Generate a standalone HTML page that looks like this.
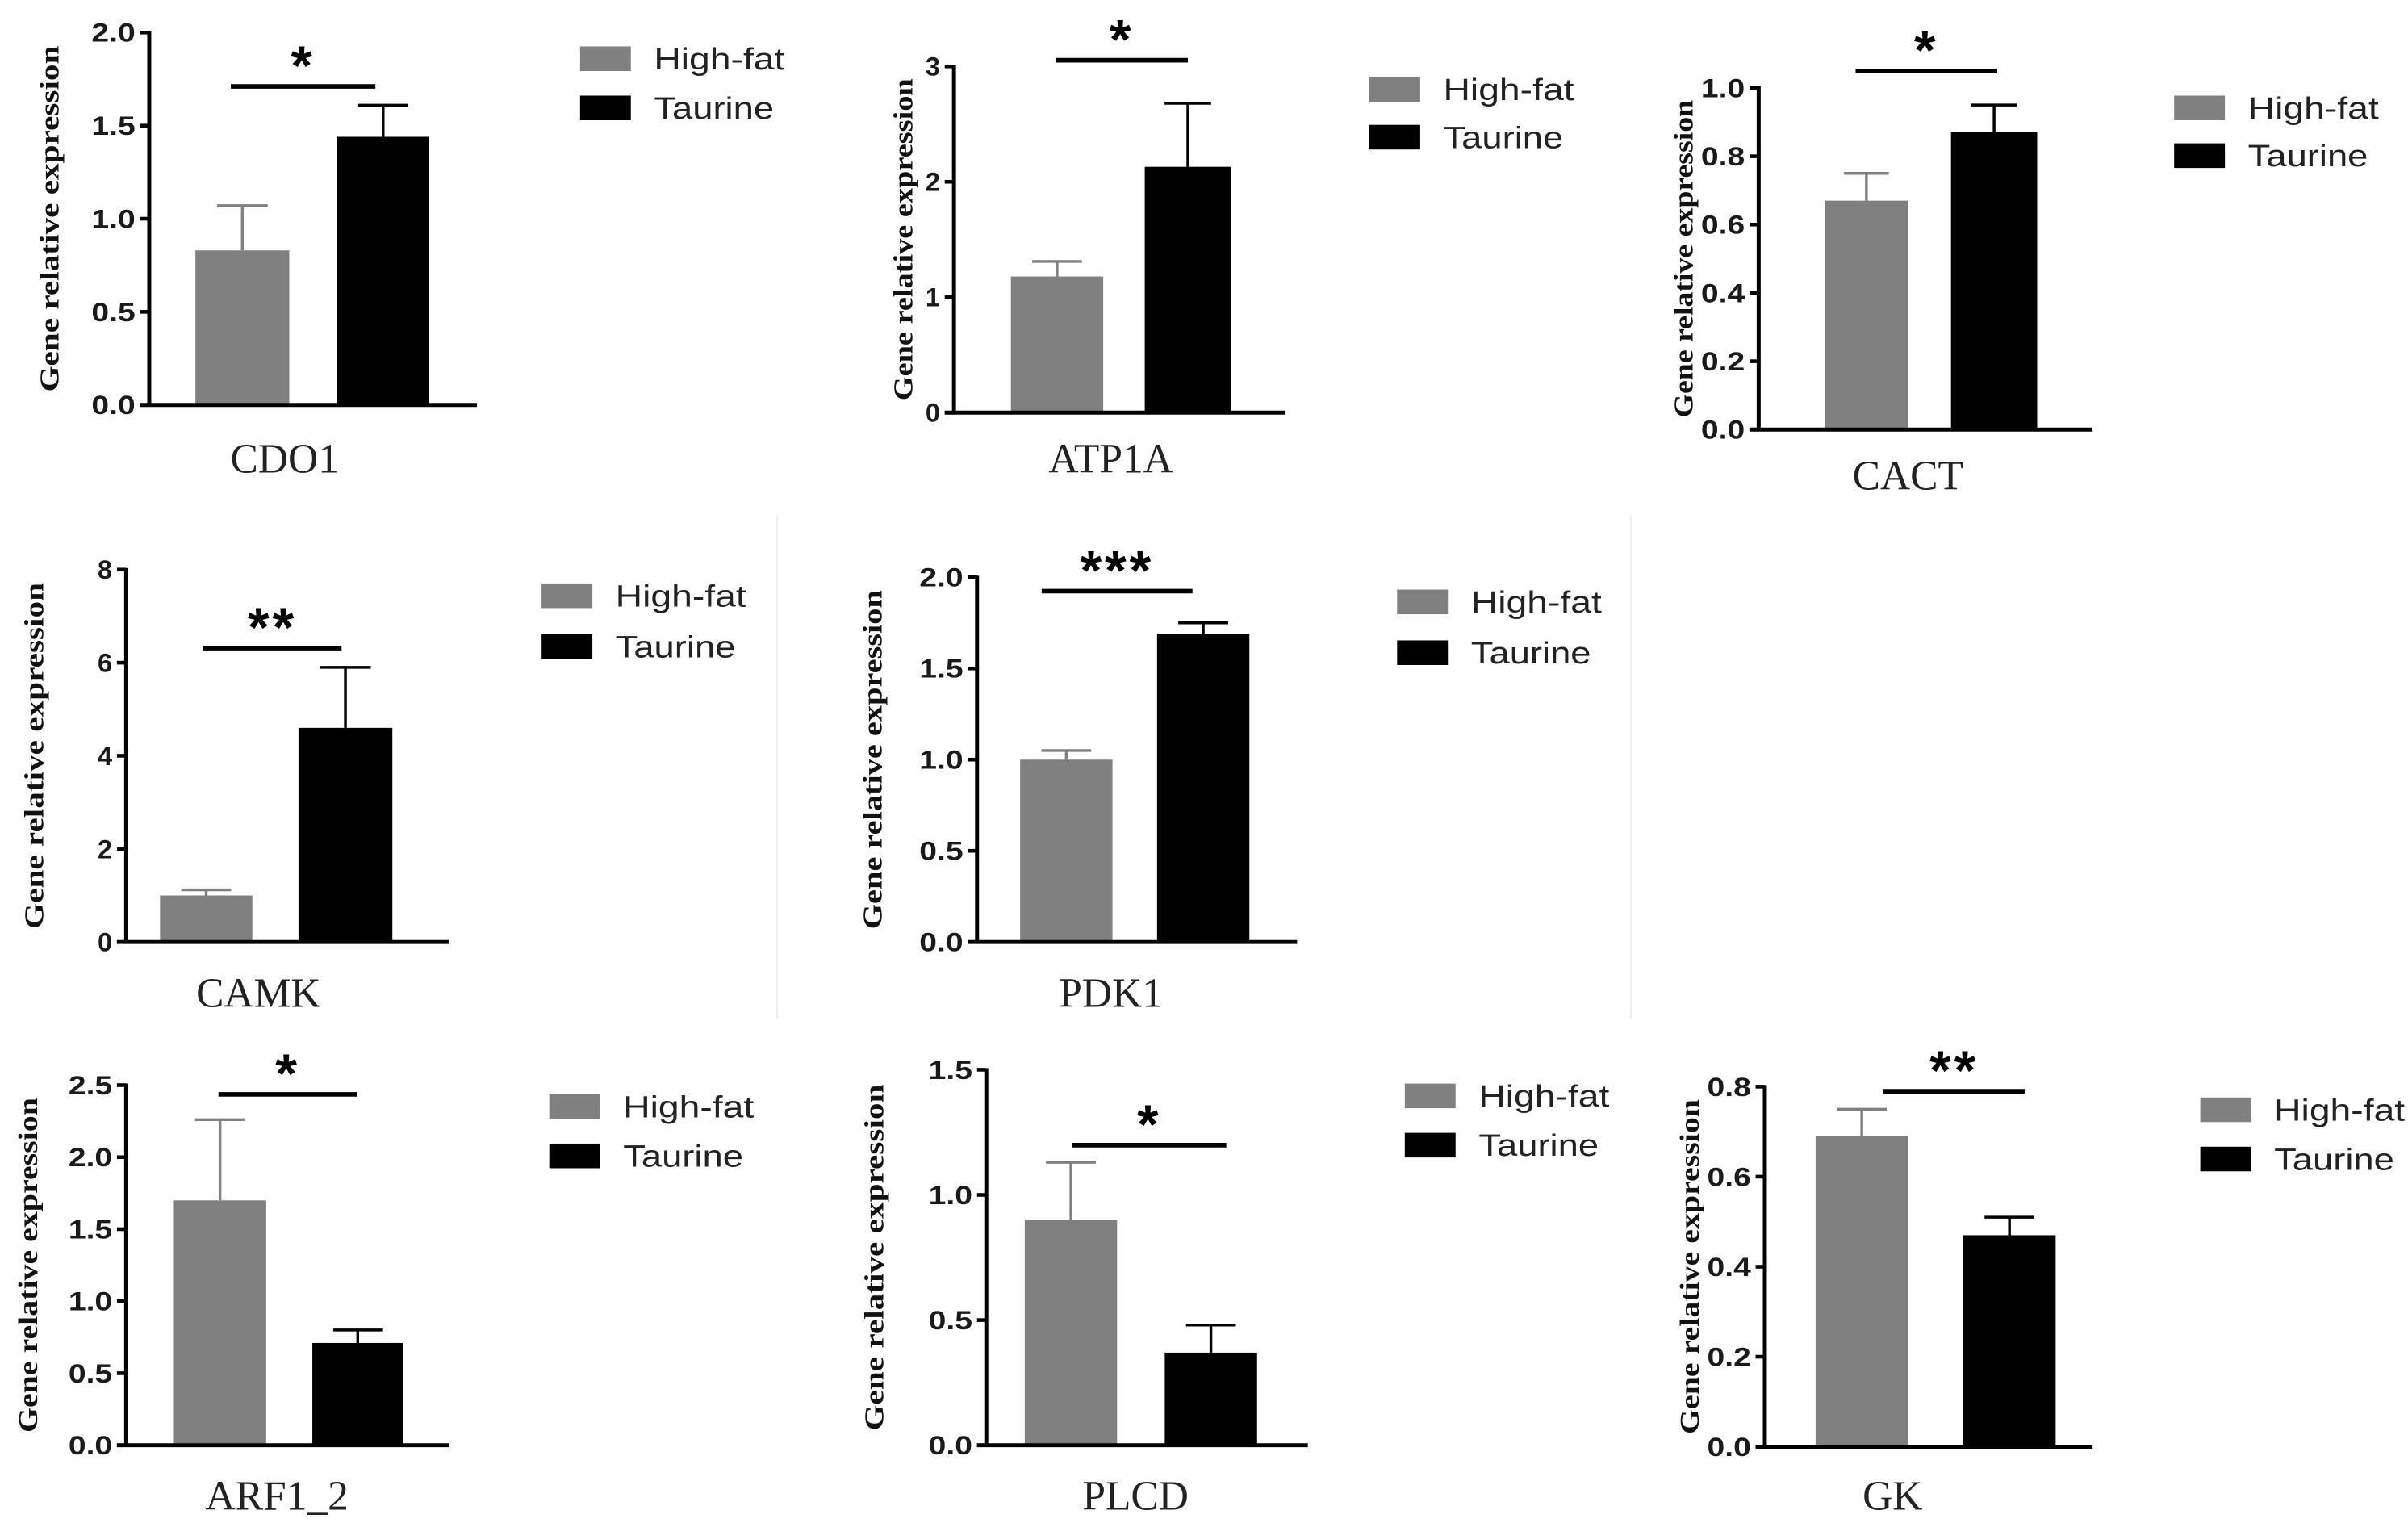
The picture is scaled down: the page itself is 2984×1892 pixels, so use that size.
<!DOCTYPE html>
<html><head><meta charset="utf-8">
<style>
html,body{margin:0;padding:0;background:#fff;}
svg{display:block;}
text{font-family:"Liberation Sans",sans-serif;}
</style></head>
<body>
<svg id="fig" xmlns="http://www.w3.org/2000/svg" width="2984" height="1892" viewBox="0 0 1565 992">
<rect x="0" y="0" width="1565" height="992" fill="#fff"/>
<line x1="505" y1="335" x2="505" y2="662" stroke="#eee" stroke-width="1"/>
<line x1="1060" y1="335" x2="1060" y2="662" stroke="#eee" stroke-width="1"/>
</svg>
<script>
const genes = ["CDO1","ATP1A","CACT","CAMK","PDK1","ARF1_2","PLCD","GK"];
const highFat = [0.83,1.18,0.67,1.0,1.0,1.7,0.9,0.69];
const highFatErr = [0.24,0.13,0.08,0.12,0.05,0.56,0.23,0.06];
const taurine = [1.44,2.13,0.87,4.6,1.69,0.71,0.37,0.47];
const taurineErr = [0.17,0.55,0.08,1.3,0.06,0.09,0.11,0.04];
const sigLabels = ["*","*","*","**","***","*","*","**"];
const yMaxes = [2.0,3,1.0,8,2.0,2.5,1.5,0.8];
const tickLabels = [
  ["0.0","0.5","1.0","1.5","2.0"],
  ["0","1","2","3"],
  ["0.0","0.2","0.4","0.6","0.8","1.0"],
  ["0","2","4","6","8"],
  ["0.0","0.5","1.0","1.5","2.0"],
  ["0.0","0.5","1.0","1.5","2.0","2.5"],
  ["0.0","0.5","1.0","1.5"],
  ["0.0","0.2","0.4","0.6","0.8"]
];
const legendLabels = ["High-fat","Taurine"];

const layout = [
  {ax:97,top:21,zero:263,xe:310,g:[127,188],b:[219,279],sig:[150,244,56],lg:[377,38,70],lab:[185,298],yt:32},
  {ax:620,top:43,zero:268,xe:835,g:[657,717],b:[744,800],sig:[686,772,39],lg:[890,58,89],lab:[722,298],yt:587},
  {ax:1143,top:57,zero:279,xe:1360,g:[1186,1240],b:[1268,1324],sig:[1206,1298,46],lg:[1413,70,101],lab:[1240,309],yt:1094},
  {ax:82,top:370,zero:612,xe:292,g:[104,164],b:[194,255],sig:[132,222,421],lg:[352,387,420],lab:[168,645],yt:22},
  {ax:635,top:375,zero:612,xe:843,g:[663,723],b:[752,812],sig:[677,775,384],lg:[908,391,424],lab:[722,645],yt:567},
  {ax:82,top:705,zero:939,xe:292,g:[113,173],b:[203,262],sig:[142,232,711],lg:[357,719,751],lab:[180,972],yt:18},
  {ax:641,top:695,zero:939,xe:850,g:[666,726],b:[757,817],sig:[697,797,744],lg:[913,712,744],lab:[738,972],yt:568},
  {ax:1147,top:706,zero:940,xe:1360,g:[1180,1240],b:[1276,1336],sig:[1224,1316,709],lg:[1430,721,753],lab:[1230,972],yt:1098}
];
const NS="http://www.w3.org/2000/svg";
const svg=document.getElementById('fig');
function mk(tag,attrs,parent){const e=document.createElementNS(NS,tag);for(const k in attrs)e.setAttribute(k,attrs[k]);(parent||svg).appendChild(e);return e;}

genes.forEach((gene,i)=>{
  const L=layout[i];
  const yScale=v=>L.zero-(v/yMaxes[i])*(L.zero-L.top);
  const g=mk('g',{});
  
  
  const series=[[highFat[i],highFatErr[i],L.g,'#808080','high-fat'],[taurine[i],taurineErr[i],L.b,'#000','taurine']];
  series.forEach(s=>{
    const [v,e,xr,col,nm]=s;
    const bw=xr[1]-xr[0], cx=(xr[0]+xr[1])/2;
    const bar=mk('rect',{x:xr[0],y:yScale(v),width:bw,height:L.zero-yScale(v),fill:col},g);
    
    
    const eg=mk('g',{stroke:col,'stroke-width':1.8},g);
    
    
    mk('line',{x1:cx,y1:yScale(v),x2:cx,y2:yScale(v+e)},eg);
    mk('line',{x1:cx-bw*0.27,y1:yScale(v+e),x2:cx+bw*0.27,y2:yScale(v+e)},eg);
  });
  const ax=mk('g',{stroke:'#000','stroke-width':2.6},g);
  
  
  mk('line',{x1:L.ax,y1:L.top-1,x2:L.ax,y2:L.zero},ax);
  mk('line',{x1:L.ax-6,y1:L.zero,x2:L.xe,y2:L.zero},ax);
  const n=tickLabels[i].length;
  tickLabels[i].forEach((t,k)=>{
    const val=yMaxes[i]*k/(n-1);
    const y=yScale(val);
    mk('line',{x1:L.ax-6,y1:y,x2:L.ax,y2:y,stroke:'#000','stroke-width':2.4},g);
    const tx=mk('text',{x:L.ax-9,y:y+6,'text-anchor':'end','font-size':17,'font-weight':'bold',fill:'#1a1a1a',textLength:t.length*9.5,lengthAdjust:'spacingAndGlyphs'},g);
    tx.textContent=t;
    
    
  });
  const ym=(L.top+L.zero)/2;
  const yt=mk('text',{x:0,y:0,transform:`translate(${L.yt+6},${ym}) rotate(-90)`,'text-anchor':'middle','font-size':18,'font-weight':'bold',fill:'#111',style:'font-family:"Liberation Serif",serif',textLength:Math.min(225,(L.zero-L.top)*0.93),lengthAdjust:'spacingAndGlyphs'},g);
  yt.textContent='Gene relative expression';
  
  
  const sl=mk('line',{x1:L.sig[0],y1:L.sig[2],x2:L.sig[1],y2:L.sig[2],stroke:'#000','stroke-width':3},g);
  
  
  const st=mk('text',{x:(L.sig[0]+L.sig[1])/2,y:L.sig[2]-1,'text-anchor':'middle','font-size':36,'font-weight':'bold',fill:'#000','letter-spacing':2},g);
  st.textContent=sigLabels[i];
  
  
  const gl=mk('text',{x:L.lab[0],y:L.lab[1]+9,'text-anchor':'middle','font-size':27,fill:'#222',style:'font-family:"Liberation Serif",serif'},g);
  gl.textContent=gene;
  
  
  const lg=mk('g',{},g);
  
  
  legendLabels.forEach((lab,k)=>{
    const y=L.lg[1+k];
    const e=mk('g',{},lg);
    
    
    mk('rect',{x:L.lg[0],y:y-8,width:33,height:16,fill:k===0?'#808080':'#000'},e);
    const t=mk('text',{x:L.lg[0]+48,y:y+7,'font-size':20,fill:'#222',textLength:k===0?85:78,lengthAdjust:'spacingAndGlyphs'},e);
    t.textContent=lab;
  });
});
</script>
</body></html>
